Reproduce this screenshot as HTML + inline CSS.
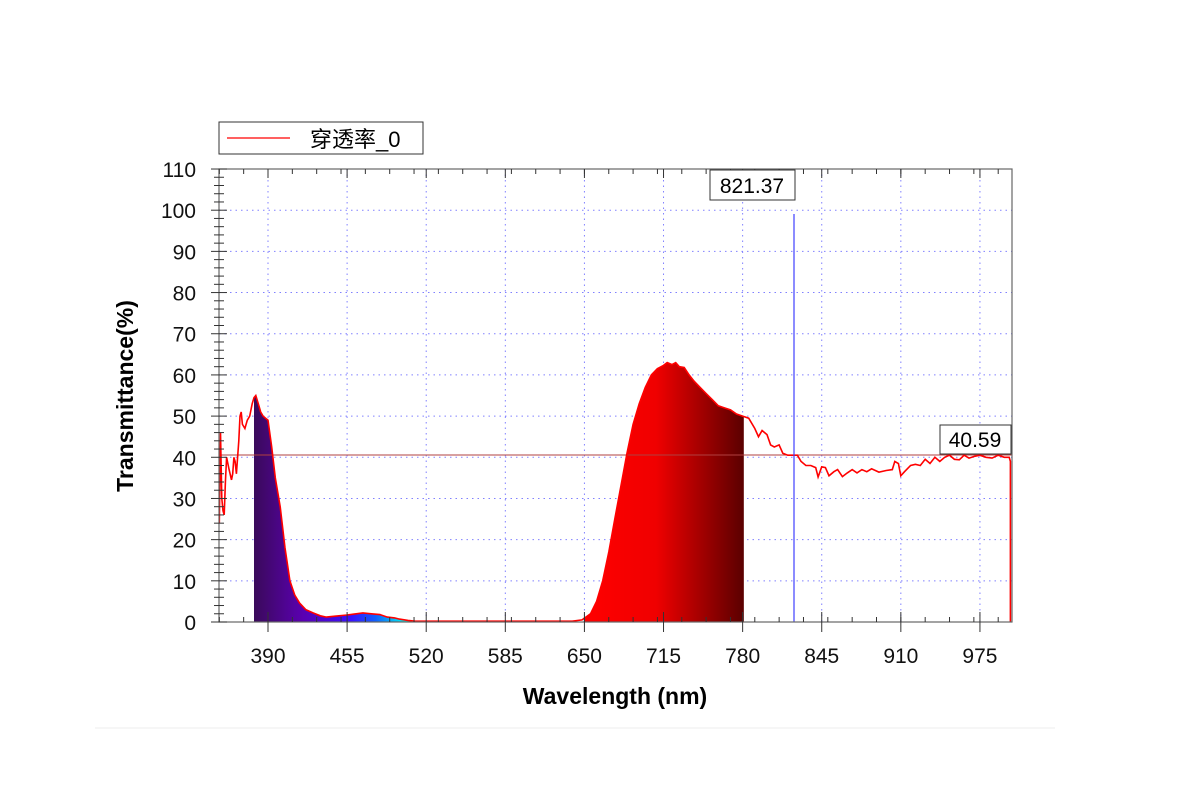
<!DOCTYPE html>
<html><head><meta charset="utf-8"><style>
body{margin:0;background:#fff;}
svg text{font-family:"Liberation Sans","Noto Sans CJK SC",sans-serif;}
</style></head><body>
<svg id="s" width="1200" height="800" xmlns="http://www.w3.org/2000/svg">
<defs>
<linearGradient id="gb" gradientUnits="userSpaceOnUse" x1="254" y1="0" x2="416" y2="0">
<stop offset="0" stop-color="#3a0a5a"/><stop offset="0.3" stop-color="#5a00b0"/><stop offset="0.6" stop-color="#3a10ff"/><stop offset="0.75" stop-color="#1060ff"/><stop offset="0.93" stop-color="#00f0f0"/><stop offset="1" stop-color="#30e040"/>
</linearGradient>
<linearGradient id="gr" gradientUnits="userSpaceOnUse" x1="584" y1="0" x2="744" y2="0">
<stop offset="0" stop-color="#ff0000"/><stop offset="0.45" stop-color="#f00000"/><stop offset="1" stop-color="#5a0000"/>
</linearGradient>
</defs>
<line x1="95" y1="728" x2="1055" y2="728" stroke="#eee"/>
<g id="grid" stroke="#8080ff" stroke-width="1" stroke-dasharray="1.5,4"></g>
<path id="fb" fill="url(#gb)"/>
<path id="fr" fill="url(#gr)"/>
<line x1="219" y1="455" x2="1012" y2="455" stroke="#b04040" stroke-width="1"/>
<path id="ln" fill="none" stroke="#ff0000" stroke-width="1.6"/>
<line x1="794" y1="214" x2="794" y2="622" stroke="#4040ff" stroke-width="1.2"/>
<rect x="219" y="169" width="793" height="453" fill="none" stroke="#666" stroke-width="1.2"/>
<g id="ticks" stroke="#333" stroke-width="1"></g>
<g id="lbl" font-size="21" fill="#111"></g>
<rect x="710" y="170" width="85" height="30" fill="#fff" stroke="#333"/>
<text x="752" y="193" font-size="21" text-anchor="middle">821.37</text>
<rect x="940" y="425" width="71" height="29" fill="#fff" stroke="#333"/>
<text x="975" y="447" font-size="21" text-anchor="middle">40.59</text>
<rect x="219" y="122" width="204" height="32" fill="#fff" stroke="#333"/>
<line x1="227" y1="138" x2="290" y2="138" stroke="#f00" stroke-width="1.2"/>
<text x="310" y="147" font-size="22">穿透率_0</text>
<text x="615" y="704" font-size="23" font-weight="bold" text-anchor="middle">Wavelength (nm)</text>
<text transform="translate(133,396) rotate(-90)" font-size="23" font-weight="bold" text-anchor="middle">Transmittance(%)</text>
</svg>
<script>
const X=n=>268+(n-390)*1.2170, Y=v=>622-v*4.118;
const d=[[350,24],[351,46],[352,30],[353,27],[354,26],[355,34],[356,40],[358,37],[360,34.5],[361,36],[362,40],[363,39],[364,36],[366,44],[367,50],[368,51],[369,48],[371,47],[373,49],[375,50],[377,53],[378.5,54.5],[380,55],[382,53],[384,51],[386,50],[388,49.5],[390,49],[393,42.5],[396,35],[400,28],[404,18],[408,10],[412,6.5],[416,4.6],[421,3],[427,2.2],[433,1.5],[438,1.2],[445,1.4],[455,1.7],[460,1.9],[468,2.2],[475,2],[482,1.8],[488,1.2],[494,1],[498,0.7],[505,0.4],[511,0.2],[520,0.2],[640,0.2],[648,0.5],[655,2],[660,5],[665,10],[670,17],[675,25],[680,33],[685,41],[690,48],[695,53],[700,57],[705,60],[710,61.5],[715,62.3],[718,63],[722,62.5],[725,63],[728,62],[732,61.8],[736,60],[740,58.5],[745,57],[750,55.5],[755,54],[760,52.5],[765,52],[770,51.5],[775,50.5],[780,50],[785,49.5],[790,47],[793,45],[796,46.5],[800,45.5],[803,43],[806,42.5],[810,43],[813,41],[817,40.5],[821,40.5],[825,40.5],[828,39],[832,38],[836,38],[840,37.5],[842,35.2],[845,37.7],[848,37.5],[851,35.5],[855,36.5],[858,37],[862,35.3],[866,36.2],[870,37],[874,36.2],[878,37],[882,36.5],[886,37.2],[892,36.4],[898,36.8],[903,37],[905,39],[908,38.5],[910,35.5],[913,36.5],[918,38],[922,38.3],[926,38],[930,39.5],[934,38.5],[938,40],[942,39],[946,40],[950,40.5],[954,39.5],[958,39.4],[962,40.5],[966,39.8],[970,40.2],[975,40.5],[980,40],[985,39.8],[990,40.5],[995,40],[999,40],[1000,39],[1000,0]];
const ip=n=>{for(let i=0;i<d.length-1;i++){if(n>=d[i][0]&&n<=d[i+1][0]){const t=(n-d[i][0])/((d[i+1][0]-d[i][0])||1);return d[i][1]+t*(d[i+1][1]-d[i][1]);}}return 0;};
document.getElementById('ln').setAttribute('d','M'+d.map(p=>X(p[0]).toFixed(1)+','+Y(p[1]).toFixed(1)).join('L'));
const fill=(a,b)=>{let s='M'+X(a)+','+Y(0);for(let n=a;n<=b;n+=0.5)s+='L'+X(n).toFixed(1)+','+Y(ip(n)).toFixed(1);return s+'L'+X(b)+','+Y(0)+'Z';};
document.getElementById('fb').setAttribute('d',fill(378.5,511));
document.getElementById('fr').setAttribute('d',fill(650,781));
const NS='http://www.w3.org/2000/svg';
const mk=(g,tag,at,txt)=>{const e=document.createElementNS(NS,tag);for(const k in at)e.setAttribute(k,at[k]);if(txt)e.textContent=txt;document.getElementById(g).appendChild(e);};
for(let v=10;v<=100;v+=10)mk('grid','line',{x1:219,x2:1012,y1:Y(v),y2:Y(v)});
for(let n=390;n<=975;n+=65)mk('grid','line',{x1:X(n),x2:X(n),y1:169,y2:622});
for(let v=0;v<=110;v+=2){const M=v%10==0;mk('ticks','line',{x1:M?211:214,x2:M?227:224,y1:Y(v),y2:Y(v)});}
for(let v=0;v<=110;v+=10)mk('lbl','text',{x:196,y:Y(v)+8,'text-anchor':'end'},String(v));
for(let n=350;n<=1000;n+=20){mk('ticks','line',{x1:X(n),x2:X(n),y1:622,y2:617});mk('ticks','line',{x1:X(n),x2:X(n),y1:169,y2:174});}
for(let n=390;n<=975;n+=65){mk('ticks','line',{x1:X(n),x2:X(n),y1:612,y2:632});mk('ticks','line',{x1:X(n),x2:X(n),y1:169,y2:178});mk('lbl','text',{x:X(n),y:663,'text-anchor':'middle'},String(n));}
</script>
</body></html>
